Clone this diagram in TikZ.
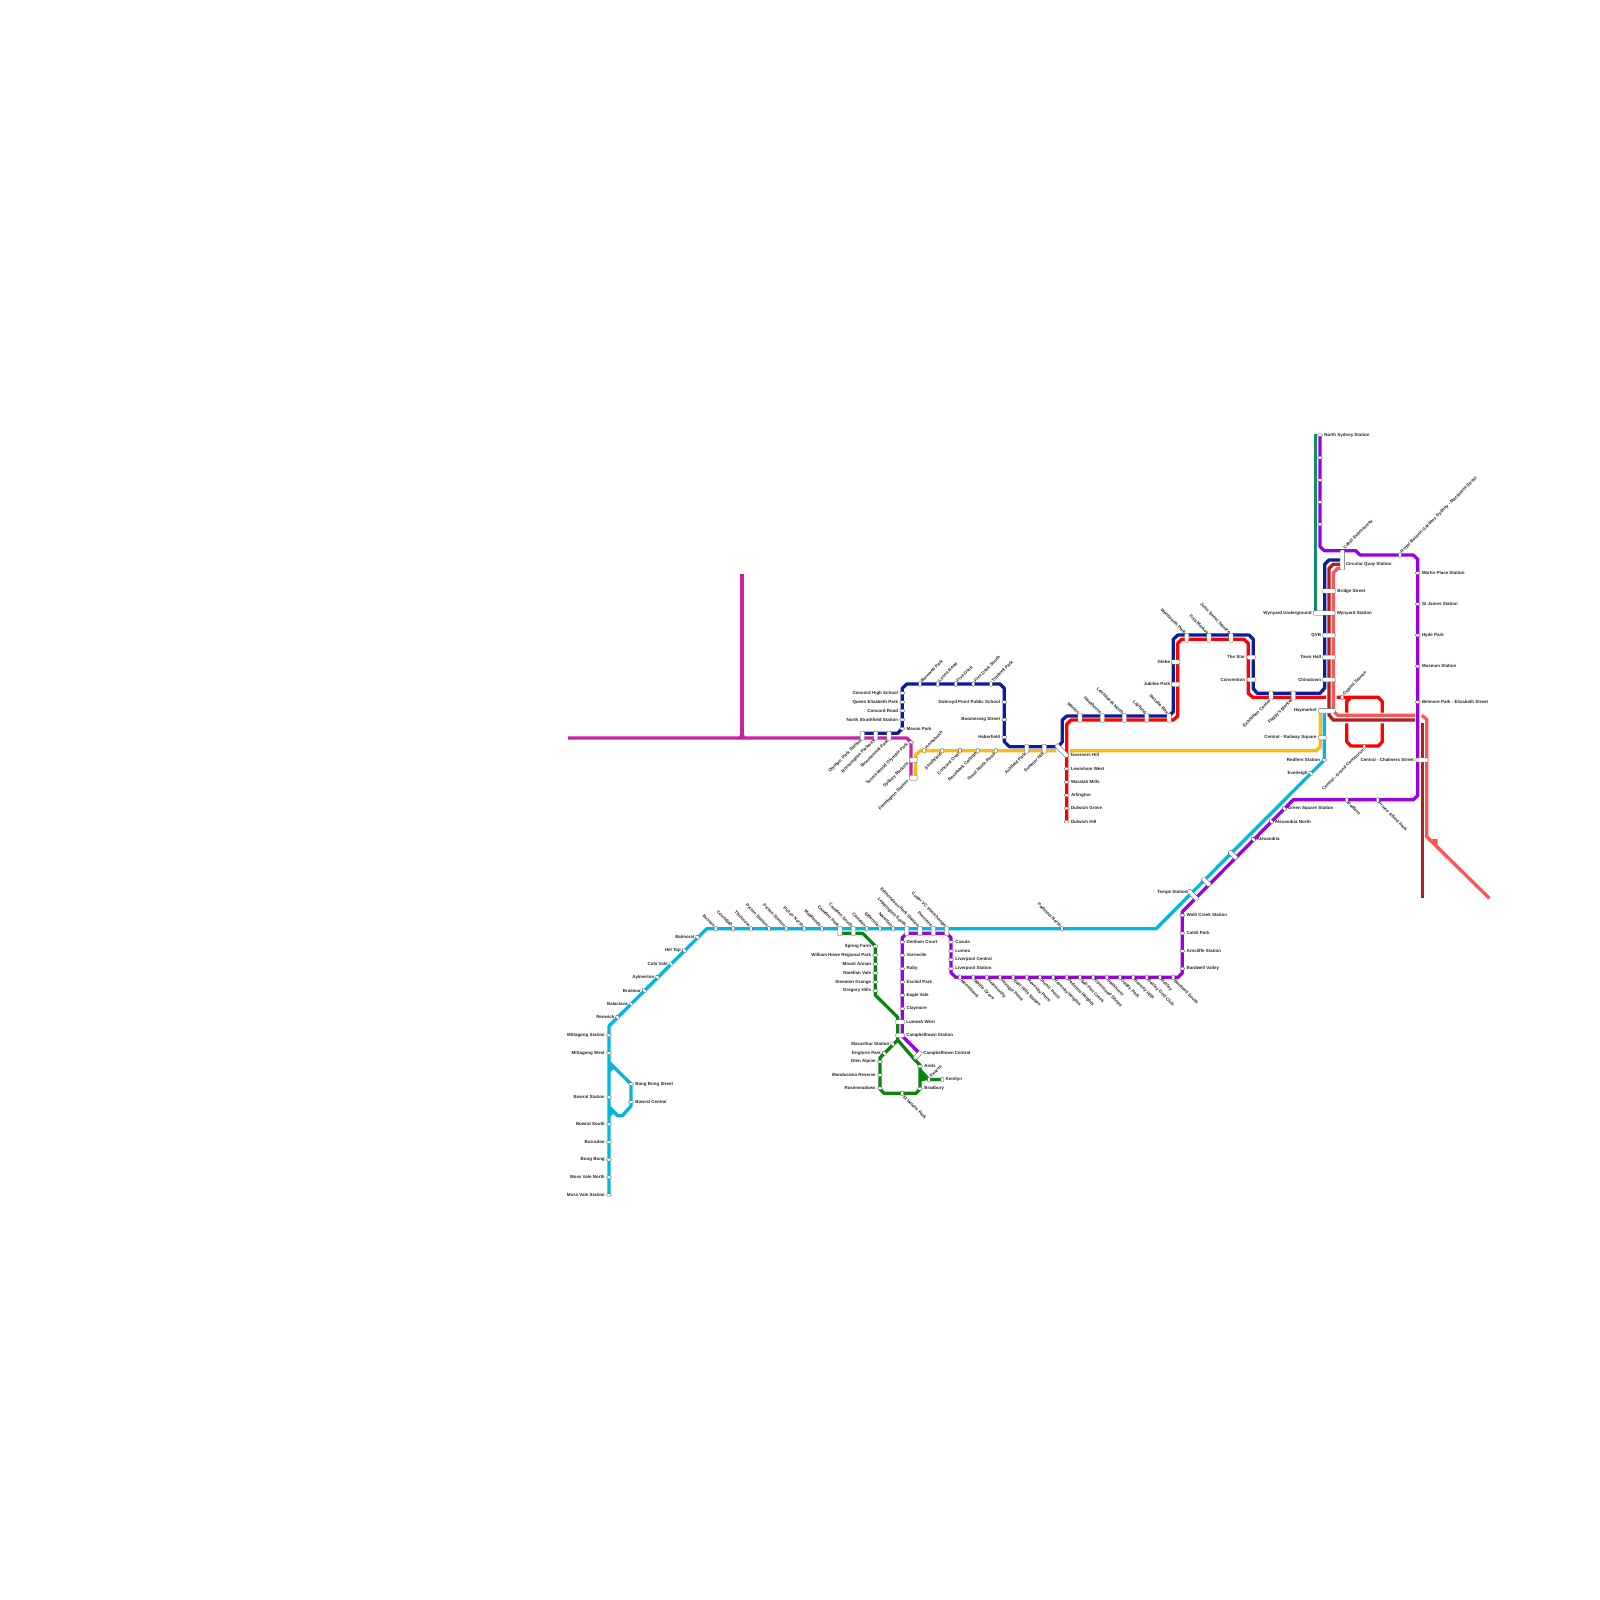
\documentclass[tikz,border=0pt]{standalone}
\usepackage{fontspec}
\setmainfont{Liberation Sans}
\usetikzlibrary{calc}
\definecolor{cCy}{HTML}{00B8DE}
\definecolor{cGr}{HTML}{0A860A}
\definecolor{cPu}{HTML}{9A00E0}
\definecolor{cNa}{HTML}{0A1E9C}
\definecolor{cRe}{HTML}{FF0000}
\definecolor{cYe}{HTML}{FFB914}
\definecolor{cMa}{HTML}{CC20A6}
\definecolor{cTe}{HTML}{0E8E6B}
\definecolor{cDr}{HTML}{B01E22}
\definecolor{cCo}{HTML}{FF5555}
\tikzset{
 route/.style={line width=3.3pt,line join=round,line cap=butt},
 pill/.style={draw=black!65,line width=0.35pt,fill=white,rounded corners=1.1pt,inner sep=0pt,outer sep=0pt},
 lbl/.style={font=\fontsize{4.45}{5}\bfseries\selectfont,text=black!85,inner sep=0pt,outer sep=0pt},
}
\newcounter{sn}
\newcommand{\setph}[1]{\ifdim#1pt>7pt\def\ph{4.4pt}\else\def\ph{2.5pt}\fi}
% horizontal pill, label right / left
\newcommand{\stR}[4]{\stepcounter{sn}\setph{#3}\node[pill,minimum width=#3pt,minimum height=\ph](s\thesn) at (#1,#2) {};
 \node[lbl,anchor=west](l\thesn) at ([xshift=1.8pt]s\thesn.east) {#4};}
\newcommand{\stL}[4]{\stepcounter{sn}\setph{#3}\node[pill,minimum width=#3pt,minimum height=\ph](s\thesn) at (#1,#2) {};
 \node[lbl,anchor=east](l\thesn) at ([xshift=-1.8pt]s\thesn.west) {#4};}
\newcommand{\stO}[3]{\stepcounter{sn}\node[pill,minimum width=#3pt,minimum height=2.5pt](s\thesn) at (#1,#2) {};}
% vertical pill, slanted label
\newcommand{\setpw}[1]{\ifdim#1pt>7pt\def\pw{4.4pt}\else\def\pw{2.8pt}\fi}
\newcommand{\stNW}[4]{\stepcounter{sn}\setpw{#3}\node[pill,minimum width=\pw,minimum height=#3pt](s\thesn) at (#1,#2) {};
 \node[lbl,anchor=east,rotate=-45](l\thesn) at ([xshift=-1.4pt,yshift=0.2pt]s\thesn.north) {#4};}
\newcommand{\stNE}[4]{\stepcounter{sn}\setpw{#3}\node[pill,minimum width=\pw,minimum height=#3pt](s\thesn) at (#1,#2) {};
 \node[lbl,anchor=west,rotate=45](l\thesn) at ([xshift=1.4pt,yshift=0.2pt]s\thesn.north) {#4};}
\newcommand{\stSW}[4]{\stepcounter{sn}\setpw{#3}\node[pill,minimum width=\pw,minimum height=#3pt](s\thesn) at (#1,#2) {};
 \node[lbl,anchor=east,rotate=45](l\thesn) at ([xshift=-1.4pt,yshift=-0.2pt]s\thesn.south) {#4};}
\newcommand{\stSE}[4]{\stepcounter{sn}\setpw{#3}\node[pill,minimum width=\pw,minimum height=#3pt](s\thesn) at (#1,#2) {};
 \node[lbl,anchor=west,rotate=-45](l\thesn) at ([xshift=1.4pt,yshift=-0.2pt]s\thesn.south) {#4};}
% rotated pill; label horizontal on left / right
\newcommand{\stDL}[5]{\stepcounter{sn}\node[pill,rotate=#4,minimum width=#3pt,minimum height=2.8pt](s\thesn) at (#1,#2) {};
 \node[lbl,anchor=east](l\thesn) at ($(s\thesn)+(-3.4,0)$) {#5};}
\newcommand{\stDR}[5]{\stepcounter{sn}\node[pill,rotate=#4,minimum width=#3pt,minimum height=2.8pt](s\thesn) at (#1,#2) {};
 \node[lbl,anchor=west](l\thesn) at ($(s\thesn)+(3.6,0)$) {#5};}
\begin{document}
\begin{tikzpicture}[x=1pt,y=-1pt]
\useasboundingbox (0,0) rectangle (1600,1600);
\fill[white] (0,0) rectangle (1600,1600);
% --- magenta
\draw[route,cMa] (568,738) -- (906.7,738) -- (911,742.3) -- (911,776.7);
\draw[route,cMa] (742,573.5) -- (742,738);
\fill[cMa] (736.5,739) -- (742,733) -- (747.5,739) -- cycle;
% --- teal
\draw[route,cTe] (1315.7,434.3) -- (1315.7,612);
% --- yellow
\draw[route,cYe] (915.7,776.7) -- (915.7,755) -- (920,750.7) -- (1056,750.7);
\draw[route,cYe] (1070,750.7) -- (1316,750.7) -- (1320.3,746.7) -- (1320.3,713);
% --- cyan
\draw[route,cCy] (609,1195) -- (609,1026) -- (706.7,928.7) -- (1156,928.7) -- (1324.3,760) -- (1324.3,711);
\draw[route,cCy] (609,1062.3) -- (631,1084) -- (631,1106) -- (622.3,1115.7) -- (617.7,1115.7) -- (609,1106.7);
\fill[cCy] (609,1061) -- (615.5,1067.5) -- (609,1073) -- cycle;
\fill[cCy] (609,1105.5) -- (615.5,1112) -- (609,1117.5) -- cycle;
% --- green
\draw[route,cGr] (840,933.3) -- (862.7,933.3) -- (875.3,946) -- (875.3,995) -- (897.7,1017.3) -- (897.7,1040) -- (880,1057.7) -- (880,1089) -- (884,1093.3) -- (916,1093.3) -- (920,1089) -- (920,1065) -- (915,1060) -- (897.7,1040);
\draw[route,cGr] (920,1070) -- (929,1079.5) -- (942.3,1079.5);
\fill[cGr] (919,1068) -- (930,1079.5) -- (919,1082) -- cycle;
% --- purple
\draw[route,cPu] (906.7,933.3) -- (946.7,933.3) -- (951,937.7) -- (951,972.7) -- (955.7,977.3) -- (1178,977.3) -- (1182.3,973) -- (1182.3,911.7) -- (1293.3,799.7) -- (1413.3,799.7) -- (1417.7,795.5) -- (1417.7,559.3) -- (1413.3,555) -- (1360,555) -- (1355.7,550.7) -- (1324.3,550.7) -- (1320,546.7) -- (1320,435);
\draw[route,cPu] (906.7,933.3) -- (902.3,937.7) -- (902.3,1036) -- (919.3,1053);
% --- coral
\draw[route,cCo] (1340,568.3) -- (1337.7,568.3) -- (1333.3,572.7) -- (1333.3,711) -- (1337.7,715.3) -- (1415,715.3);
\draw[route,cCo] (1421.7,715.3) -- (1426.7,719.3) -- (1426.7,836.7) -- (1489.3,898.3);
\fill[cCo] (1431,839) -- (1437.5,839) -- (1437.5,845) -- cycle;
% --- dark red
\draw[route,cDr] (1340,564.3) -- (1333.3,564.3) -- (1329,568.3) -- (1329,715) -- (1333.3,720) -- (1415,720);
\draw[route,cDr] (1422.3,723.3) -- (1422.3,898.3);
% --- navy
\draw[route,cNa] (862.3,733.3) -- (897.7,733.3) -- (902.3,728.3) -- (902.3,688.3) -- (906.7,684) -- (1000,684) -- (1004.3,688.3) -- (1004.3,741.7) -- (1009.3,746.7) -- (1058.3,746.7) -- (1062.3,741.7) -- (1062.3,720) -- (1066.7,716) -- (1169,716) -- (1173.3,711.7) -- (1173.3,639.3) -- (1177.7,635) -- (1249,635) -- (1253.3,639.3) -- (1253.3,688.7) -- (1257.3,693.3) -- (1320,693.3) -- (1324.7,688) -- (1324.7,564.3) -- (1329,560) -- (1340,560);
% --- red
\draw[route,cRe] (1066.7,821.7) -- (1066.7,724.3) -- (1071,720) -- (1173.3,720) -- (1177.7,716) -- (1177.7,643.3) -- (1181.7,639.3) -- (1244,639.3) -- (1248.3,643.3) -- (1248.3,693.3) -- (1252.7,697.3) -- (1326,697.3);
\draw[route,cRe] (1336.7,697.3) -- (1378.3,697.3) -- (1382.3,701.7) -- (1382.3,712.7);
\draw[route,cRe] (1382.3,723.3) -- (1382.3,741.7) -- (1378.3,746) -- (1351,746) -- (1346.7,741.7) -- (1346.7,723.3);
\draw[route,cRe] (1346.7,712.7) -- (1346.7,701.7) -- (1351,697.3);
\fill[cRe] (1344,696) -- (1352,696) -- (1346.7,703) -- cycle;
% ====== stations
% southern cyan
\stL{609}{1195}{5}{Moss Vale Station}
\stL{609}{1177.3}{5}{Moss Vale North}
\stL{609}{1159.7}{5}{Bong Bong}
\stL{609}{1142}{5}{Burradoo}
\stL{609}{1124.3}{5}{Bowral South}
\stL{609}{1097.3}{5}{Bowral Station}
\stL{609}{1053}{5}{Mittagong West}
\stL{609}{1035.3}{5}{Mittagong Station}
\stR{631}{1084}{5}{Bong Bong Street}
\stR{631}{1102}{5}{Bowral Central}
\stDL{617.7}{1017.3}{5}{-45}{Renwick}
\stDL{631}{1004}{5}{-45}{Balaclava}
\stDL{644.3}{990.7}{5}{-45}{Braemar}
\stDL{657.7}{977.3}{5}{-45}{Aylmerton}
\stDL{671}{964}{5}{-45}{Colo Vale}
\stDL{684.3}{950.7}{5}{-45}{Hill Top}
\stDL{697.7}{937.3}{5}{-45}{Balmoral}
\stNW{715.7}{928.7}{5}{Buxton}
\stNW{733.3}{928.7}{5}{Couridjah}
\stNW{751}{928.7}{5}{Thirlmere}
\stNW{769}{928.7}{5}{Picton Station}
\stNW{786.3}{928.7}{5}{Picton Station}
\stNW{804.3}{928.7}{5}{Picton North}
\stNW{822}{928.7}{5}{Maldlands}
\stNW{840}{931}{9.5}{Camden Park}
\stNW{853.3}{931}{9.5}{Camden South}
\stNW{866.7}{928.7}{5}{Camden}
\stNW{880}{928.7}{5}{Elderslie}
\stNW{893.3}{928.7}{5}{Narellan}
\stNW{906.7}{931}{9.5}{Leppington South}
\stNW{920}{931}{9.5}{Edmondson Park Station}
\stNW{933.3}{931}{9.5}{Prestons}
\stNW{946.7}{931}{9.5}{Cutler VC Interchange}
\stNW{1062}{928.7}{5}{Padstow North}
% green
\stL{875.3}{946.3}{5}{Spring Farm}
\stL{875.3}{955.3}{5}{William Howe Regional Park}
\stL{875.3}{964}{5}{Mount Annan}
\stL{875.3}{973}{5}{Narellan Vale}
\stL{875.3}{982}{5}{Smeaton Grange}
\stL{875.3}{990.7}{5}{Gregory Hills}
\stDL{892.7}{1044}{5}{-45}{Macarthur Station}
\stDL{884.3}{1053.3}{5}{-45}{Englorie Park}
\stL{880}{1061.7}{5}{Glen Alpine}
\stL{880}{1075}{5}{Mandurama Reserve}
\stL{880}{1088.3}{5}{Rosemeadows}
\stSE{902.3}{1093.3}{5}{St Helens Park}
\stR{920}{1088.7}{5}{Bradbury}
\stR{920}{1066.3}{5}{Airds}
\stNE{929}{1079.5}{5}{Kearns}
\stepcounter{sn}\node[pill,minimum width=2.8pt,minimum height=5pt](s\thesn) at (942.3,1079.5) {};
\node[lbl,anchor=west](l\thesn) at (945.7,1079.5) {Kentlyn};
\stepcounter{sn}\node[pill,rotate=45,minimum width=10pt,minimum height=4.4pt](s\thesn) at (917.7,1055.3) {};
\node[lbl,anchor=west](lcc) at (923.3,1053) {Campbelltown Central};
\stR{900}{1022}{9}{Lumeah West}
\stR{900}{1035.3}{9}{Campbelltown Station}
% purple left
\stR{902.3}{942}{5}{Denham Court}
\stR{902.3}{955.3}{5}{Varroville}
\stR{902.3}{968.7}{5}{Raby}
\stR{902.3}{982}{5}{Eschol Park}
\stR{902.3}{995.3}{5}{Eagle Vale}
\stR{902.3}{1008.7}{5}{Claymore}
\stR{951}{942}{5}{Casula}
\stR{951}{951}{5}{Lurnea}
\stR{951}{959.7}{5}{Liverpool Central}
\stR{951}{968.7}{5}{Liverpool Station}
% purple bottom
\stSE{960}{977.3}{5}{Moorebank}
\stSE{973.3}{977.3}{5}{Wattle Grove}
\stSE{986.7}{977.3}{5}{Holsworthy}
\stSE{1000}{977.3}{5}{Voyager Point}
\stSE{1013.3}{977.3}{5}{East Hills Station}
\stSE{1026.7}{977.3}{5}{Revesby Point}
\stSE{1040}{977.3}{5}{Picnic Point}
\stSE{1053.3}{977.3}{5}{Revesby Heights}
\stSE{1066.7}{977.3}{5}{Padstow Heights}
\stSE{1080}{977.3}{5}{Salt Pan Creek}
\stSE{1093.3}{977.3}{5}{Riverwood Shops}
\stSE{1106.7}{977.3}{5}{Peakhurst}
\stSE{1120}{977.3}{5}{Oatley Park}
\stSE{1133.3}{977.3}{5}{Beverly Hills}
\stSE{1146.7}{977.3}{5}{Bexley Golf Club}
\stSE{1160}{977.3}{5}{Bexley}
\stSE{1173.3}{977.3}{5}{Bardwell South}
\stR{1182.3}{968.7}{5}{Bardwell Valley}
\stR{1182.3}{951}{5}{Arncliffe Station}
\stR{1182.3}{933.3}{5}{Cahill Park}
\stR{1182.3}{915.3}{5}{Wolli Creek Station}
\stepcounter{sn}\node[pill,rotate=-45,minimum width=14pt,minimum height=4.4pt](s\thesn) at (1193,895.3) {};
\node[lbl,anchor=east](ltempe) at (1187.5,892.7) {Tempe Station};
\stepcounter{sn}\node[pill,rotate=-45,minimum width=11pt,minimum height=4.4pt](s\thesn) at (1206.3,881.7) {};
\stepcounter{sn}\node[pill,rotate=-45,minimum width=11pt,minimum height=4.4pt](s\thesn) at (1233,855) {};
\stDR{1253.3}{839.3}{5}{-45}{Alexandria}
\stDR{1271.3}{821.7}{5}{-45}{Alexandria North}
\stDR{1284.3}{808.7}{5}{-45}{Green Square Station}
\stSE{1346.7}{800}{5}{Redfern}
\stSE{1377.7}{800}{5}{Prince Alfred Park}
% east purple
\stR{1320}{435}{5}{North Sydney Station}
\stO{1320}{457.7}{5}
\stO{1320}{480}{5}
\stO{1320}{502}{5}
\stO{1320}{524.3}{5}
\stNE{1400}{555}{5}{Royal Botanic Gardens Sydney - Macquarie Street}
\stR{1417.7}{573}{5}{Martin Place Station}
\stR{1417.7}{604}{5}{St James Station}
\stR{1417.7}{635.3}{5}{Hyde Park}
\stR{1417.7}{666.3}{5}{Museum Station}
\stR{1417.7}{702}{5}{Belmore Park - Elizabeth Street}
\stL{1422}{760}{12.5}{Central - Chalmers Street}
% city trunk
\stepcounter{sn}\node[pill,minimum width=4.6pt,minimum height=20pt](s\thesn) at (1342.3,560) {};
\node[lbl,anchor=west](lcq) at (1346,564) {Circular Quay Station};
\node[lbl,anchor=west,rotate=45](lce) at (1344.3,548.3) {Cahill Expressway};
\stR{1329}{591}{13}{Bridge Street}
\stepcounter{sn}\node[pill,minimum width=22pt,minimum height=4.4pt](s\thesn) at (1324.3,613) {};
\node[lbl,anchor=east](lwu) at (1311.6,613) {Wynyard Underground};
\node[lbl,anchor=west](lws) at (1336.8,613) {Wynyard Station};
\stepcounter{sn}\node[pill,minimum width=13pt,minimum height=4.4pt](s\thesn) at (1329,635.3) {};
\node[lbl,anchor=east](lqvb) at (1321,635.3) {QVB};
\stepcounter{sn}\node[pill,minimum width=13pt,minimum height=4.4pt](s\thesn) at (1329,657.3) {};
\node[lbl,anchor=east](lth) at (1321,657.3) {Town Hall};
\stepcounter{sn}\node[pill,minimum width=13pt,minimum height=4.4pt](s\thesn) at (1329,679.7) {};
\node[lbl,anchor=east](lct) at (1321,679.7) {Chinatown};
\stepcounter{sn}\node[pill,minimum width=17pt,minimum height=4.6pt](s\thesn) at (1326.7,710.7) {};
\node[lbl,anchor=east](lhm) at (1316.5,710.7) {Haymarket};
\stL{1322.3}{737.7}{8}{Central - Railway Square}
\stL{1324.3}{760}{5}{Redfern Station}
\stDL{1311}{773.3}{5}{-45}{Everleigh}
\stNE{1342.3}{697.3}{5}{Capitol Square}
\stSW{1364.3}{746.7}{5}{Central - Grand Concourse}
\stSW{1293.3}{695.5}{9}{Paddy's Market}
\stSW{1271}{695.5}{9}{Exhibition Centre}
% L1 shared
\stepcounter{sn}\node[pill,minimum width=8.5pt,minimum height=4.4pt](s\thesn) at (1251.3,657.3) {};
\node[lbl,anchor=east](lstar) at (1245,657.3) {The Star};
\stepcounter{sn}\node[pill,minimum width=8.5pt,minimum height=4.4pt](s\thesn) at (1251.3,679.7) {};
\node[lbl,anchor=east](lconv) at (1245,679.7) {Convention};
\stNW{1186.7}{637.7}{9}{Wentworth Park}
\stNW{1209}{637.7}{9}{Fish Market}
\stNW{1231}{637.7}{9}{John Street Square}
\stepcounter{sn}\node[pill,minimum width=8.5pt,minimum height=4.4pt](s\thesn) at (1175.7,662) {};
\node[lbl,anchor=east](lglebe) at (1170,662) {Glebe};
\stepcounter{sn}\node[pill,minimum width=8.5pt,minimum height=4.4pt](s\thesn) at (1175.7,684.3) {};
\node[lbl,anchor=east](ljp) at (1170,684.3) {Jubilee Park};
\stNW{1080}{718}{9}{Marion}
\stNW{1102.3}{718}{9}{Hawthorne}
\stNW{1124.3}{718}{9}{Leichhardt North}
\stNW{1146.7}{718}{9}{Lilyfield}
\stNW{1169}{718}{9}{Rozelle Bay}
\stepcounter{sn}\node[pill,rotate=-45,minimum width=17pt,minimum height=4.4pt](s\thesn) at (1062,750.7) {};
\node[lbl,anchor=west](ltav) at (1070,755) {Taverners Hill};
\stR{1066.7}{768.7}{5}{Lewisham West}
\stR{1066.7}{782}{5}{Waratah Mills}
\stR{1066.7}{795.3}{5}{Arlington}
\stR{1066.7}{808.3}{5}{Dulwich Grove}
\stR{1066.7}{821.7}{5}{Dulwich Hill}
% navy west
\stSW{1026.7}{748.7}{9}{Ashfield Park}
\stSW{1044.3}{748.7}{9}{Summer Hill}
\stL{1004.3}{702}{5}{Dobroyd Point Public School}
\stL{1004.3}{719.7}{5}{Boomerang Street}
\stL{1004.3}{737.3}{5}{Haberfield}
\stNE{920}{684}{5}{Barnwell Park}
\stNE{937.7}{684}{5}{Lyons Road}
\stNE{955.7}{684}{5}{Five Dock}
\stNE{973.3}{684}{5}{Five Dock South}
\stNE{991}{684}{5}{Timbrell Park}
\stL{902.3}{693}{5}{Concord High School}
\stL{902.3}{702}{5}{Queen Elizabeth Park}
\stL{902.3}{710.7}{5}{Concord Road}
\stL{902.3}{719.7}{5}{North Strathfield Station}
\stR{902.3}{728.7}{5}{Mason Park}
\stSW{862.3}{735.7}{9}{Olympic Park Station}
\stSW{875.7}{735.7}{9}{Bressington Parkway}
\stSW{889}{735.7}{9}{Bicentennial Park}
% yellow
\stNE{924.3}{750.7}{5}{Homebush}
\stSW{942.3}{750.7}{5}{Strathfield}
\stSW{960}{750.7}{5}{Concord Oval}
\stSW{977.7}{750.7}{5}{Rosebank College}
\stSW{995.7}{750.7}{5}{Great North Road}
% magenta
\stepcounter{sn}\node[pill,minimum width=5pt,minimum height=2.5pt](s\thesn) at (911,742.3) {};
\node[lbl,anchor=east,rotate=45](ltw) at (907.5,743.5) {Tennis World Olympic Park};
\stepcounter{sn}\node[pill,minimum width=8pt,minimum height=5pt](s\thesn) at (913.3,760) {};
\node[lbl,anchor=east,rotate=45](lsm) at (908,763) {Sydney Markets};
\stepcounter{sn}\node[pill,minimum width=8pt,minimum height=5pt](s\thesn) at (913.3,777.7) {};
\node[lbl,anchor=east,rotate=45](lfl) at (908,781) {Flemington Station};
\end{tikzpicture}
\end{document}
